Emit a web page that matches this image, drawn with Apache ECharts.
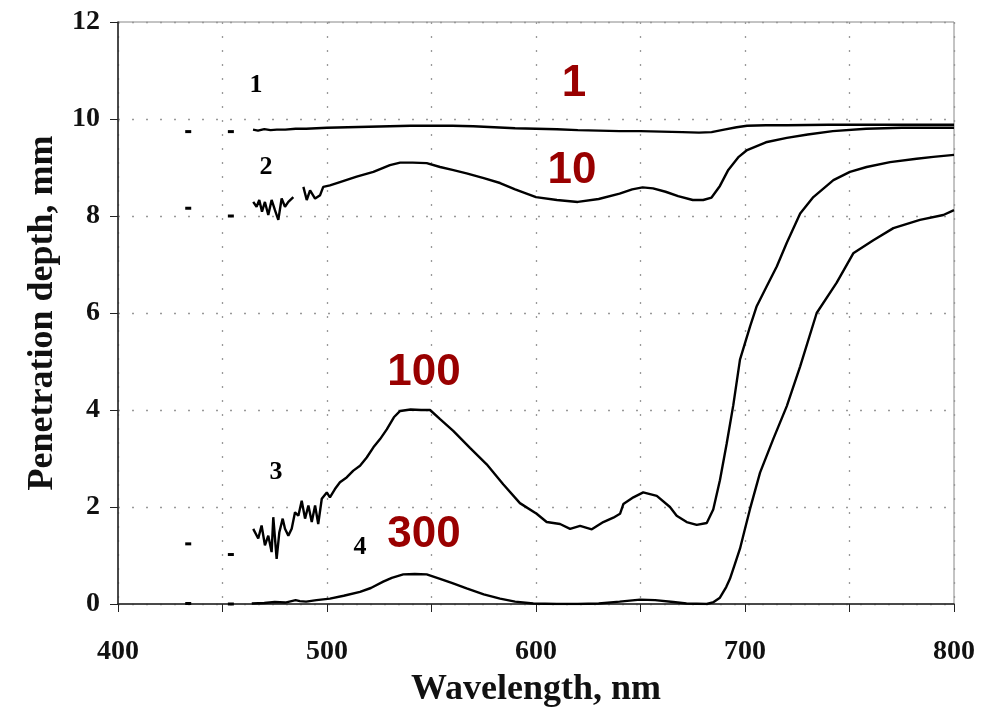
<!DOCTYPE html>
<html><head><meta charset="utf-8">
<script src="https://cdn.jsdelivr.net/npm/echarts@6/dist/echarts.min.js"></script>
<style>html,body{margin:0;padding:0;background:#fff}#c{width:992px;height:713px}</style>
</head><body><div id="c"></div>
<script>
// ---- data (wavelength nm, penetration depth mm) ----
const xTicks = [400, 500, 600, 700, 800];
const yTicks = [0, 2, 4, 6, 8, 10, 12];

const curve1 = [[464.6,9.78],[467,9.76],[470,9.79],[473,9.77],[476,9.78],[480,9.78],[485,9.80],[490,9.80],[500,9.82],[510,9.83],[520,9.84],[530,9.85],[540,9.86],[550,9.86],[560,9.86],[570,9.85],[580,9.83],[590,9.81],[600,9.80],[610,9.79],[620,9.77],[630,9.76],[640,9.75],[650,9.75],[660,9.74],[670,9.73],[678,9.72],[684,9.73],[690,9.78],[696,9.83],[701,9.86],[710,9.87],[720,9.87],[740,9.88],[760,9.88],[780,9.88],[800,9.88]];

const curve2 = [[464.7,8.29],[466.3,8.19],[467.6,8.33],[468.9,8.09],[470.3,8.29],[471.9,8.02],[473.5,8.33],[475.1,8.12],[476.7,7.92],[478.3,8.36],[479.9,8.19],[481.5,8.29],[483.9,8.39],[486,'-'],[488.7,8.6],[490.3,8.33],[491.9,8.53],[494.3,8.36],[496.7,8.43],[498.2,8.6],[501.4,8.63],[506.2,8.70],[514.2,8.81],[522.2,8.91],[530.1,9.05],[535,9.10],[541,9.10],[547.7,9.09],[554.1,9.01],[560,8.95],[566.8,8.88],[575,8.78],[582.8,8.68],[590,8.55],[600,8.39],[610,8.33],[620,8.29],[630,8.35],[640,8.46],[646,8.55],[651,8.59],[656,8.57],[662,8.50],[668,8.41],[675,8.33],[680,8.33],[684,8.38],[688,8.62],[692,8.95],[697,9.22],[701,9.36],[710,9.52],[720,9.61],[730,9.68],[742,9.75],[758,9.80],[775,9.82],[800,9.82]];

const curve3 = [[464.7,1.55],[467.1,1.35],[468.7,1.62],[470.3,1.21],[471.9,1.41],[473.5,1.07],[474.3,1.79],[475.9,0.93],[477.2,1.48],[478.8,1.76],[479.9,1.55],[481.5,1.41],[483.1,1.55],[484.7,1.89],[486.3,1.82],[487.9,2.13],[489.5,1.76],[491.1,2.03],[492.7,1.69],[494.3,2.03],[495.8,1.65],[497.5,2.17],[499.9,2.30],[501.4,2.20],[503.8,2.37],[506.2,2.51],[509.4,2.61],[512.6,2.75],[515.8,2.85],[519,3.02],[522.2,3.23],[525.4,3.40],[528.6,3.60],[532,3.85],[535,3.98],[540,4.01],[545,4.00],[549.3,4.0],[554.1,3.81],[560.4,3.57],[568.4,3.22],[576.4,2.88],[584.3,2.47],[592.3,2.08],[600.3,1.86],[605.1,1.69],[611.5,1.65],[616.3,1.55],[621.1,1.61],[626.7,1.54],[632.2,1.69],[637,1.78],[640.2,1.86],[641.8,2.06],[646.6,2.20],[651.3,2.30],[657.8,2.23],[664.1,2.0],[667.3,1.82],[672.1,1.69],[676.9,1.63],[681.7,1.67],[684.8,1.95],[688,2.55],[691.2,3.3],[694.4,4.1],[697.6,5.04],[702.4,5.72],[705.6,6.14],[710.4,6.55],[715.2,6.96],[720,7.45],[726.4,8.05],[732.7,8.39],[742.3,8.74],[750.2,8.91],[758.2,9.01],[769.4,9.11],[782.1,9.18],[790.1,9.22],[800,9.26]];

const curve4 = [[464,0.01],[470,0.02],[475,0.04],[480,0.03],[485,0.08],[487,0.06],[490,0.05],[495,0.08],[501.4,0.11],[508,0.17],[515.8,0.25],[521,0.33],[526.9,0.46],[531,0.54],[536.5,0.61],[542,0.62],[547.7,0.61],[554.1,0.52],[560,0.43],[566.8,0.32],[575,0.2],[582.8,0.11],[590,0.05],[598.7,0.01],[610,0],[620,0],[630,0.01],[640,0.05],[649.8,0.09],[657,0.08],[665.7,0.04],[672,0.01],[681.7,0],[685,0.04],[688,0.13],[691,0.35],[692.8,0.52],[695,0.8],[697.6,1.14],[700,1.55],[702.4,1.96],[707.2,2.71],[713.5,3.40],[720,4.08],[726.4,4.90],[734.3,6.0],[743.8,6.62],[751.8,7.23],[761.4,7.5],[771,7.75],[783.7,7.92],[794.9,8.02],[800,8.12]];

// isolated short dash marks at the start of each curve
const dashMarks = [[433.6,9.74],[454,9.74],[433.6,8.16],[454,8.0],[433.6,1.24],[454,1.02],[433.6,0.01],[454,0.0]];

// curve number labels (black) and dose labels (red)
const curveNumbers = [['1',466,10.69],['2',470.8,9.0],['3',475.6,2.72],['4',515.8,1.16]];
const doseLabels = [['1',618.2,10.73],['10',617.2,8.94],['100',546.4,4.77],['300',546.4,1.43]];

const xTitle = 'Wavelength, nm';
const yTitle = 'Penetration depth, mm';

// ---- chart ----
const serif = '"Liberation Serif","Times New Roman",serif';
const sans = '"Liberation Sans",Arial,sans-serif';
const chart = echarts.init(document.getElementById('c'), null, {renderer:'canvas'});
const lineStyle = {color:'#000', width:2.4};
const mkLine = d => ({type:'line', data:d, symbol:'none', connectNulls:false, lineStyle, z:3, animation:false});

chart.setOption({
  animation:false,
  grid:{left:118, right:38, top:22, bottom:108, show:true, borderColor:'#888', borderWidth:1},
  xAxis:{type:'value', min:400, max:800, interval:50,
    name:xTitle, nameLocation:'middle', nameGap:68,
    nameTextStyle:{fontFamily:serif, fontWeight:'bold', fontSize:36, color:'#111'},
    axisLine:{lineStyle:{color:'#222', width:1.5}},
    axisTick:{show:true, length:8, lineStyle:{color:'#222'}},
    axisLabel:{fontFamily:serif, fontWeight:'bold', fontSize:28, color:'#111', margin:34,
      formatter:v=> xTicks.includes(v) ? String(v) : ''},
    splitLine:{show:true, lineStyle:{color:'#999', type:[2,12], width:1.3}}
  },
  yAxis:{type:'value', min:0, max:12, interval:2,
    name:yTitle, nameLocation:'middle', nameGap:56, nameRotate:90,
    nameTextStyle:{fontFamily:serif, fontWeight:'bold', fontSize:36, color:'#111'},
    axisLine:{show:true, lineStyle:{color:'#222', width:1.5}},
    axisTick:{show:true, length:8, lineStyle:{color:'#222'}},
    axisLabel:{fontFamily:serif, fontWeight:'bold', fontSize:28, color:'#111', margin:18,
      formatter:v=> yTicks.includes(v) ? String(v) : ''},
    splitLine:{show:true, lineStyle:{color:'#999', type:[2,12], width:1.3}}
  },
  series:[
    mkLine(curve1), mkLine(curve2), mkLine(curve3), mkLine(curve4),
    {type:'scatter', data:dashMarks, symbol:'rect', symbolSize:[6,3], itemStyle:{color:'#000', opacity:1}, z:3},
    {type:'scatter', data:curveNumbers.map(a=>({value:[a[1],a[2]], name:a[0]})), symbolSize:0,
      itemStyle:{opacity:1},
      label:{show:true, position:'inside', opacity:1, formatter:p=>p.name, fontFamily:serif, fontWeight:'bold', fontSize:26, color:'#000'}, z:4},
    {type:'scatter', data:doseLabels.map(a=>({value:[a[1],a[2]], name:a[0]})), symbolSize:0,
      itemStyle:{opacity:1},
      label:{show:true, position:'inside', opacity:1, formatter:p=>p.name, fontFamily:sans, fontWeight:'bold', fontSize:44, color:'#990000'}, z:4}
  ]
});
</script></body></html>
